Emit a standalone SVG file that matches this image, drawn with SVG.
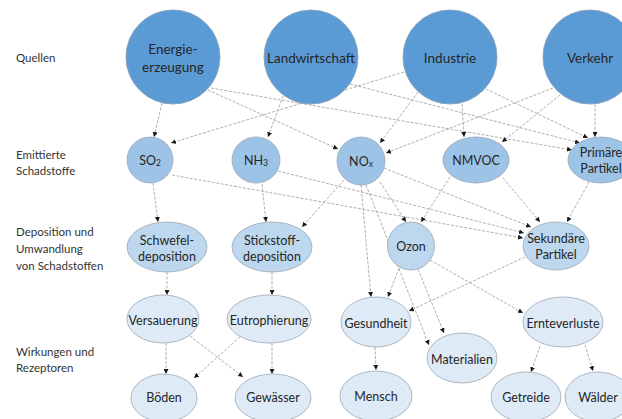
<svg xmlns="http://www.w3.org/2000/svg" width="622" height="419" viewBox="0 0 622 419">
<defs>
<marker id="ah" viewBox="0 0 6 6" refX="6" refY="3" markerWidth="5" markerHeight="5" markerUnits="userSpaceOnUse" orient="auto">
<path d="M0,0 L6,3 L0,6 z" fill="#1a1a1a"/>
</marker>
</defs>
<style>
text{font-family:Lato,"Open Sans","Liberation Sans",sans-serif;fill:#262626;dominant-baseline:central}
.t{text-anchor:middle;font-size:12.5px}
.s{text-anchor:middle;font-size:13.5px}
.l{font-size:11.5px;fill:#333}
.src{fill:#5b9bd5;stroke:#8aa5c2;stroke-width:1}
.em{fill:#9dc3e6;stroke:#9aa8b5;stroke-width:0.8}
.dep{fill:#bdd7ee;stroke:#9aa8b5;stroke-width:0.8}
.eff{fill:#deebf7;stroke:#9aa8b5;stroke-width:0.8}
.c line{stroke:#9a9a9a;stroke-width:0.8;stroke-dasharray:3 1.5;marker-end:url(#ah)}
.sub{font-size:8.5px}
</style>
<rect width="622" height="419" fill="#ffffff"/>
<g id="labels">
<text class="l" x="16" y="57">Quellen</text>
<text class="l" x="16" y="154">Emittierte</text>
<text class="l" x="16" y="170">Schadstoffe</text>
<text class="l" x="16" y="231">Deposition und</text>
<text class="l" x="16" y="248">Umwandlung</text>
<text class="l" x="16" y="265">von Schadstoffen</text>
<text class="l" x="16" y="351">Wirkungen und</text>
<text class="l" x="16" y="367">Rezeptoren</text>
</g>
<g class="c" id="connectors">
<line x1="162" y1="103" x2="154" y2="137"/>
<line x1="208" y1="90" x2="338" y2="149"/>
<line x1="211" y1="88" x2="572" y2="150"/>
<line x1="283" y1="96" x2="268" y2="137"/>
<line x1="350" y1="84" x2="580" y2="143"/>
<line x1="404" y1="72" x2="171" y2="143"/>
<line x1="418" y1="92" x2="380" y2="143"/>
<line x1="462" y1="104" x2="464" y2="137"/>
<line x1="486" y1="89" x2="588" y2="138"/>
<line x1="553" y1="88" x2="386" y2="153"/>
<line x1="560" y1="95" x2="502" y2="142"/>
<line x1="595" y1="104" x2="595" y2="137"/>
<line x1="153" y1="183" x2="158" y2="222"/>
<line x1="172" y1="175" x2="523" y2="238"/>
<line x1="262" y1="184" x2="266" y2="222"/>
<line x1="278" y1="171" x2="524" y2="233"/>
<line x1="344" y1="180" x2="302" y2="227"/>
<line x1="380" y1="182" x2="406" y2="222"/>
<line x1="384" y1="168" x2="531" y2="227"/>
<line x1="361" y1="185" x2="371" y2="297"/>
<line x1="366" y1="185" x2="429" y2="345"/>
<line x1="450" y1="177" x2="421" y2="222"/>
<line x1="503" y1="178" x2="540" y2="222"/>
<line x1="589" y1="182" x2="567" y2="222"/>
<line x1="167" y1="272" x2="167" y2="295"/>
<line x1="272" y1="272" x2="272" y2="295"/>
<line x1="399" y1="268" x2="388" y2="297"/>
<line x1="418" y1="269" x2="444" y2="333"/>
<line x1="430" y1="260" x2="523" y2="313"/>
<line x1="525" y1="257" x2="409" y2="311"/>
<line x1="166" y1="343" x2="166" y2="374"/>
<line x1="190" y1="336" x2="243" y2="377"/>
<line x1="240" y1="337" x2="194" y2="378"/>
<line x1="272" y1="343" x2="272" y2="374"/>
<line x1="375" y1="347" x2="376" y2="370"/>
<line x1="540" y1="346" x2="531" y2="372"/>
<line x1="585" y1="345" x2="593" y2="371"/>
</g>
<g id="n-energie"><circle class="src" cx="173" cy="57" r="47"/><text class="s" x="173" y="49">Energie-</text><text class="s" x="173" y="67">erzeugung</text></g>
<g id="n-landwirtschaft"><circle class="src" cx="311" cy="57" r="47"/><text class="s" x="311" y="58">Landwirtschaft</text></g>
<g id="n-industrie"><circle class="src" cx="450" cy="57" r="47"/><text class="s" x="450" y="58">Industrie</text></g>
<g id="n-verkehr"><circle class="src" cx="590" cy="57" r="47"/><text class="s" x="590" y="58">Verkehr</text></g>
<g id="n-so2"><ellipse class="em" cx="150" cy="160" rx="23" ry="23"/><text class="t" x="150" y="160">SO<tspan class="sub" dy="3">2</tspan></text></g>
<g id="n-nh3"><ellipse class="em" cx="256" cy="160" rx="24" ry="23"/><text class="t" x="256" y="160">NH<tspan class="sub" dy="3">3</tspan></text></g>
<g id="n-nox"><ellipse class="em" cx="361" cy="161" rx="24" ry="24"/><text class="t" x="361" y="161">NO<tspan class="sub" dy="3">x</tspan></text></g>
<g id="n-nmvoc"><ellipse class="em" cx="476" cy="160" rx="33" ry="23"/><text class="t" x="476" y="160">NMVOC</text></g>
<g id="n-primaer"><ellipse class="em" cx="601" cy="160" rx="33" ry="23"/><text class="t" x="601" y="152">Primäre</text><text class="t" x="601" y="168">Partikel</text></g>
<g id="n-schwefel"><ellipse class="dep" cx="167" cy="247" rx="40" ry="25"/><text class="t" x="167" y="240">Schwefel-</text><text class="t" x="167" y="256">deposition</text></g>
<g id="n-stickstoff"><ellipse class="dep" cx="272" cy="247" rx="40" ry="25"/><text class="t" x="272" y="240">Stickstoff-</text><text class="t" x="272" y="256">deposition</text></g>
<g id="n-ozon"><ellipse class="dep" cx="411" cy="246" rx="23.5" ry="24"/><text class="t" x="411" y="246">Ozon</text></g>
<g id="n-sekundaer"><ellipse class="dep" cx="556" cy="246" rx="33" ry="24"/><text class="t" x="556" y="238">Sekundäre</text><text class="t" x="556" y="254">Partikel</text></g>
<g id="n-versauerung"><ellipse class="eff" cx="163" cy="319" rx="36" ry="24"/><text class="t" x="163" y="320">Versauerung</text></g>
<g id="n-eutrophierung"><ellipse class="eff" cx="269" cy="319" rx="42" ry="24"/><text class="t" x="269" y="320">Eutrophierung</text></g>
<g id="n-gesundheit"><ellipse class="eff" cx="376" cy="322" rx="35" ry="25"/><text class="t" x="376" y="323">Gesundheit</text></g>
<g id="n-materialien"><ellipse class="eff" cx="462" cy="358" rx="35" ry="25"/><text class="t" x="462" y="359">Materialien</text></g>
<g id="n-ernteverluste"><ellipse class="eff" cx="563" cy="322" rx="40" ry="25"/><text class="t" x="563" y="323">Ernteverluste</text></g>
<g id="n-boeden"><ellipse class="eff" cx="164" cy="398" rx="33" ry="24"/><text class="t" x="164" y="397">Böden</text></g>
<g id="n-gewaesser"><ellipse class="eff" cx="273" cy="398" rx="38" ry="24"/><text class="t" x="273" y="397">Gewässer</text></g>
<g id="n-mensch"><ellipse class="eff" cx="376" cy="396" rx="36" ry="25"/><text class="t" x="376" y="396">Mensch</text></g>
<g id="n-getreide"><ellipse class="eff" cx="526" cy="397" rx="35" ry="25"/><text class="t" x="526" y="397">Getreide</text></g>
<g id="n-waelder"><ellipse class="eff" cx="598" cy="397" rx="33" ry="25"/><text class="t" x="598" y="397">Wälder</text></g>
</svg>
